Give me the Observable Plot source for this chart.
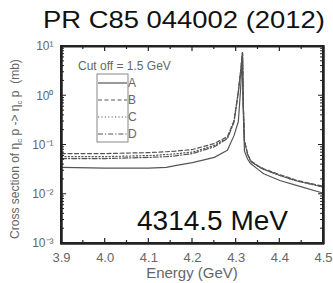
<!DOCTYPE html>
<html><head><meta charset="utf-8">
<script src="https://cdn.jsdelivr.net/npm/d3@7"></script>
<script src="https://cdn.jsdelivr.net/npm/@observablehq/plot@0.6"></script>
<style>
body{margin:0;background:#fff;}
</style>
</head><body><div id="chart"></div>
<script>
// Energy grid (GeV)
const energy = [3.9, 4.0, 4.1, 4.14, 4.16, 4.2, 4.25, 4.28, 4.295, 4.305, 4.31, 4.3145, 4.316, 4.319, 4.326, 4.333, 4.35, 4.363, 4.4, 4.44, 4.5];
// Cross sections (mb)
const sigmaA = [0.035, 0.034, 0.034, 0.035, 0.038, 0.044, 0.056, 0.078, 0.155, 0.30, 1.3, 7.5, 0.6, 0.075, 0.052, 0.042, 0.032, 0.026, 0.019, 0.015, 0.0105];
const sigmaB = [0.067, 0.067, 0.070, 0.073, 0.075, 0.081, 0.107, 0.148, 0.31, 1.2, 3.0, 7.5, 0.8, 0.12, 0.067, 0.048, 0.038, 0.033, 0.025, 0.019, 0.0145];
const sigmaC = [0.058, 0.058, 0.061, 0.064, 0.066, 0.072, 0.098, 0.14, 0.30, 1.2, 3.0, 7.5, 0.8, 0.12, 0.066, 0.047, 0.037, 0.032, 0.024, 0.0185, 0.014];
const sigmaD = [0.053, 0.053, 0.056, 0.058, 0.060, 0.067, 0.092, 0.135, 0.29, 1.2, 3.0, 7.5, 0.8, 0.12, 0.065, 0.047, 0.037, 0.032, 0.024, 0.0185, 0.014];
const seriesNames = ["A", "B", "C", "D"];
const seriesValues = [sigmaA, sigmaB, sigmaC, sigmaD];
const dashes = [null, "4,2.5", "1.2,2.2", "5,2,1.2,2"];

const xTicks = [3.9, 4.0, 4.1, 4.2, 4.3, 4.4, 4.5];
const xMinorTicks = [3.95, 4.05, 4.15, 4.25, 4.35, 4.45];
const yTicks = [1e-3, 1e-2, 1e-1, 1, 10];
const yTickLabels = ["10⁻³", "10⁻²", "10⁻¹", "10⁰", "10¹"];
const yMinorTicks = [];
for (const d of [1e-3, 1e-2, 1e-1, 1]) for (const m of [2,3,4,5,6,7,8,9]) yMinorTicks.push(d * m);

const title = "PR C85 044002 (2012)";
const annotation = "4314.5 MeV";
const cutoffText = "Cut off = 1.5 GeV";

const rows = seriesNames.flatMap((s, i) => energy.map((e, j) => ({series: s, energy: e, sigma: seriesValues[i][j]})));

const lineMarks = seriesNames.map((s, i) => Plot.line(rows.filter(r => r.series === s), {
  x: "energy", y: "sigma", stroke: "#555", strokeWidth: 1.2, strokeDasharray: dashes[i]
}));

const chart = Plot.plot({
  width: 333, height: 283,
  marginLeft: 61, marginRight: 10, marginTop: 46, marginBottom: 40,
  x: {domain: [3.9, 4.5]},
  y: {type: "log", domain: [1e-3, 10]},
  marks: [
    ...lineMarks,
    Plot.axisX({anchor: "bottom", ticks: xTicks, tickSize: 0, tickPadding: 9, tickFormat: d3.format(".1f"), fontSize: 13, fill: "#666", label: null}),
    Plot.axisY({anchor: "left", ticks: yTicks, tickSize: 0, tickPadding: 8, tickFormat: (d) => yTickLabels[yTicks.indexOf(d)], fontSize: 12, fill: "#666", label: null}),
    Plot.frame({stroke: "#222", strokeWidth: 2})
  ]
});
chart.style.fontFamily = "Liberation Sans, Arial, sans-serif";
document.getElementById("chart").appendChild(chart);

const svg = d3.select(chart);
const sx = chart.scale("x"), sy = chart.scale("y");
const X = (v) => sx.apply(v), Y = (v) => sy.apply(v);
const x0 = X(3.9), x1 = X(4.5), yB = Y(1e-3), yT = Y(10);
// Frame as filled bars (from the plot's own scales)
const fr = svg.append("g").attr("fill", "#222").attr("stroke", "none");
fr.append("rect").attr("x", x0 - 1).attr("y", yT - 1).attr("width", x1 - x0 + 2).attr("height", 2);
fr.append("rect").attr("x", x0 - 1).attr("y", yB - 1).attr("width", x1 - x0 + 2).attr("height", 2.5);
fr.append("rect").attr("x", x0 - 1).attr("y", yT - 1).attr("width", 2.5).attr("height", yB - yT + 2);
fr.append("rect").attr("x", x1 - 1).attr("y", yT - 1).attr("width", 2.5).attr("height", yB - yT + 2);
// Inward ticks as thin filled bars
const tk = svg.append("g").attr("fill", "#222");
const xt = (vals, len) => vals.forEach(v => {
  tk.append("rect").attr("x", X(v) - 0.6).attr("y", yB - len).attr("width", 1.2).attr("height", len);
  tk.append("rect").attr("x", X(v) - 0.6).attr("y", yT).attr("width", 1.2).attr("height", len);
});
const yt = (vals, len) => vals.forEach(v => {
  tk.append("rect").attr("x", x0).attr("y", Y(v) - 0.5).attr("width", len).attr("height", 1);
  tk.append("rect").attr("x", x1 - len).attr("y", Y(v) - 0.5).attr("width", len).attr("height", 1);
});
xt(xTicks, 5); xt(xMinorTicks, 3); yt(yTicks, 5); yt(yMinorTicks, 3);

// Title
svg.append("text").attr("x", 184).attr("y", 28).attr("text-anchor", "middle")
  .attr("font-size", 24).attr("fill", "#111")
  .attr("textLength", 282).attr("lengthAdjust", "spacingAndGlyphs").text(title);
// Axis labels
svg.append("text").attr("x", 192).attr("y", 278).attr("text-anchor", "middle")
  .attr("font-size", 15).attr("fill", "#666").text("Energy (GeV)");
const yl = svg.append("text").attr("transform", "translate(19,149) rotate(-90)")
  .attr("text-anchor", "middle").attr("font-size", 12).attr("fill", "#666");
yl.append("tspan").text("Cross section of η");
yl.append("tspan").attr("dy", 3).attr("font-size", 8).text("c");
yl.append("tspan").attr("dy", -3).text(" p -> η");
yl.append("tspan").attr("dy", 3).attr("font-size", 8).text("c");
yl.append("tspan").attr("dy", -3).text(" p  (mb)");
// Cut off text and legend
svg.append("text").attr("x", 78).attr("y", 70).attr("text-anchor", "start")
  .attr("font-size", 12).attr("fill", "#666").text(cutoffText);
svg.append("rect").attr("x", 97).attr("y", 74).attr("width", 31).attr("height", 68)
  .attr("fill", "none").attr("stroke", "#888").attr("stroke-width", 1);
const legY = [83, 100, 117, 134];
seriesNames.forEach((s, i) => {
  svg.append("line").attr("x1", 98).attr("x2", 127).attr("y1", legY[i]).attr("y2", legY[i])
    .attr("stroke", "#555").attr("stroke-width", 1.2).attr("stroke-dasharray", dashes[i]);
  svg.append("text").attr("x", 128).attr("y", legY[i] + 4).attr("text-anchor", "start")
    .attr("font-size", 12).attr("fill", "#666").text(s);
});
// Annotation
svg.append("text").attr("x", 137).attr("y", 230).attr("text-anchor", "start")
  .attr("font-size", 28).attr("fill", "#111").text(annotation);
</script>
</body></html>
